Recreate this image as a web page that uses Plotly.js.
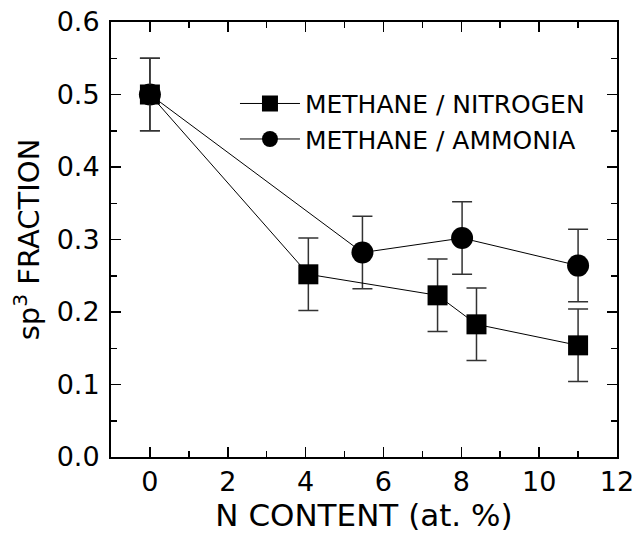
<!DOCTYPE html>
<html><head><meta charset="utf-8">
<script src="https://cdn.plot.ly/plotly-3.0.1.min.js"></script>
<style>body{margin:0;background:#fff}#c{width:637px;height:547px}</style>
</head><body><div id="c"></div>
<script>
const nitrogenX = [0, 4.07, 7.39, 8.39, 11.0];
const nitrogenY = [0.500, 0.252, 0.223, 0.183, 0.154];
const nitrogenErr = [0.05, 0.05, 0.05, 0.05, 0.05];
const ammoniaX = [0, 5.46, 8.02, 11.0];
const ammoniaY = [0.500, 0.282, 0.302, 0.264];
const ammoniaErr = [0.05, 0.05, 0.05, 0.05];
const xTicks = [0, 2, 4, 6, 8, 10, 12];
const yTicks = [0.0, 0.1, 0.2, 0.3, 0.4, 0.5, 0.6];

const font = 'DejaVu Sans, Liberation Sans, Arial, sans-serif';
const errStyle = (arr) => ({type:'data', array:arr, visible:true, color:'#333', thickness:1.5, width:10});

const traces = [
  {x:ammoniaX, y:ammoniaY, name:'METHANE / AMMONIA', mode:'lines+markers',
   line:{color:'#000', width:1}, marker:{symbol:'circle', size:22, color:'#000'},
   error_y: errStyle(ammoniaErr)},
  {x:nitrogenX, y:nitrogenY, name:'METHANE / NITROGEN', mode:'lines+markers',
   line:{color:'#000', width:1}, marker:{symbol:'square', size:20, color:'#000'},
   error_y: errStyle(nitrogenErr)}
];

const axisCommon = {
  showgrid:false, zeroline:false, showline:true, linecolor:'#000', linewidth:2,
  mirror:'ticks', ticks:'inside', ticklen:10, tickwidth:1.5, tickcolor:'#000',
  tickfont:{family:font, size:27, color:'#000'},
  minor:{ticks:'inside', ticklen:6, tickwidth:1.5, tickcolor:'#000'}
};

const layout = {
  width:637, height:547, margin:{l:111, r:20, t:22, b:90},
  paper_bgcolor:'#fff', plot_bgcolor:'#fff',
  showlegend:true,
  legend:{x:0.245, y:0.865, xanchor:'left', yanchor:'top', bgcolor:'rgba(0,0,0,0)',
    traceorder:'reversed',
    font:{family:font, size:25, color:'#000'}, itemwidth:60, tracegroupgap:0},
  xaxis:Object.assign({}, axisCommon, {range:[-1, 12], tickvals:xTicks,
    ticktext:xTicks.map(String), minor:Object.assign({}, axisCommon.minor, {dtick:1, tick0:-1}),
    ticklabelstandoff:0,
    title:{text:'N CONTENT (at. %)', font:{family:font, size:31, color:'#000'}, standoff:6}}),
  yaxis:Object.assign({}, axisCommon, {range:[0, 0.6], tickvals:yTicks,
    ticktext:yTicks.map(v=>v.toFixed(1)), minor:Object.assign({}, axisCommon.minor, {dtick:0.05, tick0:0}),
    ticklabelstandoff:4,
    title:{text:'sp<sup>3</sup> FRACTION', font:{family:font, size:29, color:'#000'}, standoff:8}})
};

Plotly.newPlot('c', traces, layout, {displayModeBar:false, staticPlot:true});
</script></body></html>
